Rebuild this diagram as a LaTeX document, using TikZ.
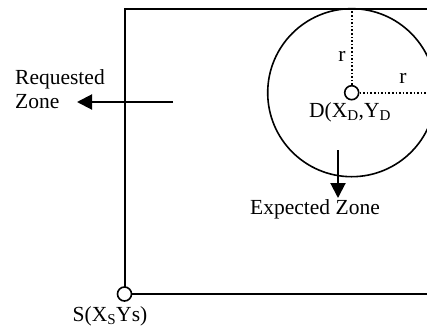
\documentclass[tikz,border=0pt]{standalone}
\usepackage{fontspec}
\setmainfont{Liberation Serif}
\usetikzlibrary{arrows.meta}
\begin{document}
\begin{tikzpicture}[x=1pt,y=-1pt,
  lbl/.style={inner sep=0pt,font=\fontsize{21.5}{24}\selectfont},
  pin/.style={circle,draw,line width=1.6pt,fill=white,minimum size=14pt,inner sep=0pt},
  frame/.style={line width=2pt},
  dotline/.style={line width=1.6pt,dotted},
  arr/.style={line width=2pt,-{Triangle[length=15pt,width=15pt]}}]
\useasboundingbox (0,0) rectangle (427,327);
\coordinate (TL) at (124.5,9);
\coordinate (TR) at (428,9);
\coordinate (BR) at (428,294);
\coordinate (RE) at (428,92.7);
\node[circle,draw,line width=1.6pt,minimum size=168pt,inner sep=0pt] (Z) at (351.7,92.7) {};
\draw[frame] (TR) -- (TL) -- (124.5,287);
\node[pin] (S) at (124.5,294) {};
\draw[frame] (S) -- (BR);
\node[pin] (D) at (351.7,92.7) {};
\draw[dotline] (D.north) -- (D |- TL);
\draw[dotline] (D.east) -- (RE);
\node[lbl] (r1) at (342,56) {r};
\node[lbl] (r2) at (403,78) {r};
\node[lbl] (Dl) at (350,112) {D(X\textsubscript{D},Y\textsubscript{D}};
\node[lbl] (Sl) at (110,316) {S(X\textsubscript{S}Ys)};
\node[lbl,align=left,anchor=west] (Rq) at (15,89) {Requested\\Zone};
\coordinate (Ra) at (173,102);
\coordinate (Rt) at (77,102);
\draw[arr] (Ra) -- (Rt);
\node[lbl] (Ez) at (315,209) {Expected Zone};
\coordinate (Ea) at (338,150);
\coordinate (Et) at (338,198);
\draw[arr] (Ea) -- (Et);
\end{tikzpicture}
\end{document}
